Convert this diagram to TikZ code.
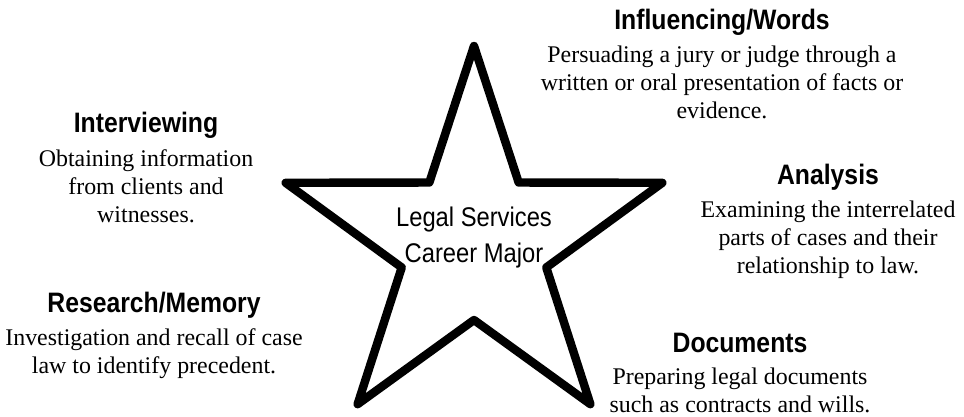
\documentclass[tikz,border=0pt]{standalone}
\usepackage{fontspec}
\setmainfont{Liberation Serif}
\newfontfamily\headfont[FakeStretch=0.88]{Liberation Sans}
\usetikzlibrary{positioning}

\tikzset{
  skillname/.style={font=\headfont\bfseries\fontsize{20}{23}\selectfont, inner sep=0pt, anchor=base},
  skilltext/.style={font=\fontsize{17}{20}\selectfont, align=center, inner sep=0pt},
  starline/.style={line width=6pt, line join=round},
}

\begin{document}
\begin{tikzpicture}

  \path[use as bounding box, fill=white] (0,0) rectangle (24.1,10.425);

  % the star in the middle
  \begin{scope}[shift={(11.85,4.325)}]
    \draw[starline] (90:4.95) -- (126:1.9) -- (162:4.95) -- (198:1.9) -- (234:4.95)
      -- (270:1.9) -- (306:4.95) -- (342:1.9) -- (18:4.95) -- (54:1.9) -- cycle;
  \end{scope}
  \node[font=\headfont\fontsize{19.2}{25.6}\selectfont, align=center, inner sep=0pt] (major) at (11.85,4.475) {Legal Services\\Career Major};

  % right side
  \node[skillname] (infl) at (18.05,9.675) {Influencing/Words};
  \node[skilltext, below=0.38cm of infl.base] (infltext) {Persuading a jury or judge through a\\written or oral presentation of facts or\\evidence.};

  \node[skillname] (anal) at (20.7,5.8) {Analysis};
  \node[skilltext, below=0.38cm of anal.base] (analtext) {Examining the interrelated\\parts of cases and their\\relationship to law.};

  \node[skillname] (docs) at (18.5,1.6) {Documents};
  \node[skilltext, below=0.36cm of docs.base] (docstext) {Preparing legal documents\\such as contracts and wills.};

  % left side
  \node[skillname] (intv) at (3.65,7.1) {Interviewing};
  \node[skilltext, below=0.4cm of intv.base] (intvtext) {Obtaining information\\from clients and\\witnesses.};

  \node[skillname] (rsch) at (3.85,2.6) {Research/Memory};
  \node[skilltext, below=0.38cm of rsch.base] (rschtext) {Investigation and recall of case\\law to identify precedent.};

\end{tikzpicture}
\end{document}
